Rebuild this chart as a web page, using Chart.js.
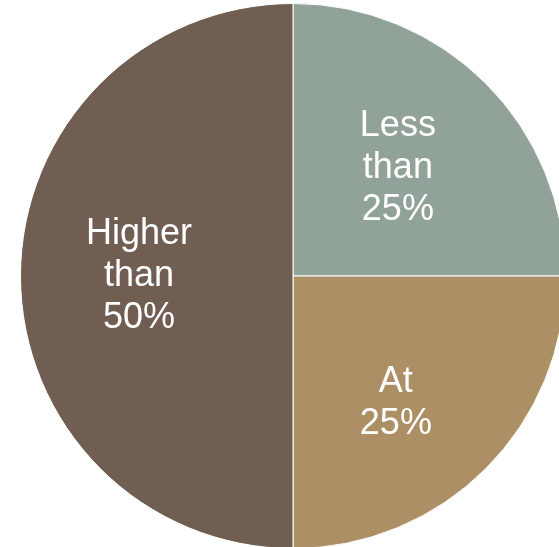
<!DOCTYPE html>
<html>
<head>
<meta charset="utf-8">
<script src="https://cdn.jsdelivr.net/npm/chart.js@4/dist/chart.umd.min.js"></script>
<style>
  html, body { margin: 0; padding: 0; background: #ffffff; overflow: hidden; width: 559px; height: 547px; }
  #wrap { position: absolute; left: 0; top: 0; width: 600px; height: 600px; }
</style>
</head>
<body>
<div id="wrap"><canvas id="c" width="600" height="600"></canvas></div>
<script>
const categories = ["Less than 25%", "At 25%", "Higher than 50%"];
const labelLines = [["Less", "than", "25%"], ["At", "25%"], ["Higher", "than", "50%"]];
const shares = [25, 25, 50];
const colors = ["#91a398", "#ad8f66", "#705e53"];

const labelPlugin = {
  id: "sliceLabels",
  afterDatasetsDraw(chart, args, opts) {
    const ctx = chart.ctx;
    const meta = chart.getDatasetMeta(0);
    ctx.save();
    ctx.fillStyle = "#ffffff";
    ctx.font = "36px 'Liberation Sans', Arial, sans-serif";
    ctx.textAlign = "center";
    ctx.textBaseline = "alphabetic";
    const lh = 42.3;
    const cap = 26;
    meta.data.forEach((arc, i) => {
      const p = arc.getProps(["x", "y", "startAngle", "endAngle", "outerRadius"], true);
      const mid = (p.startAngle + p.endAngle) / 2;
      const rr = p.outerRadius * opts.factor;
      const nudge = opts.nudges[i] || [0, 0];
      const cx = p.x + Math.cos(mid) * rr + nudge[0];
      const cy = p.y + Math.sin(mid) * rr + nudge[1];
      const lines = labelLines[i];
      const n = lines.length;
      const firstBase = cy + cap / 2 - (n - 1) * lh / 2;
      lines.forEach((t, k) => ctx.fillText(t, cx, firstBase + k * lh));
    });
    ctx.restore();
  }
};

new Chart(document.getElementById("c"), {
  type: "pie",
  data: {
    labels: categories,
    datasets: [{
      data: shares,
      backgroundColor: colors,
      borderColor: "#ffffff",
      borderWidth: 1
    }]
  },
  options: {
    responsive: false,
    animation: false,
    layout: { padding: { left: 20, top: 3, right: 34, bottom: 51 } },
    plugins: {
      legend: { display: false },
      tooltip: { enabled: false },
      sliceLabels: { factor: 0.565, nudges: [[-4, -2], [-6, 15], [0, -3]] }
    }
  },
  plugins: [labelPlugin]
});
</script>
</body>
</html>
